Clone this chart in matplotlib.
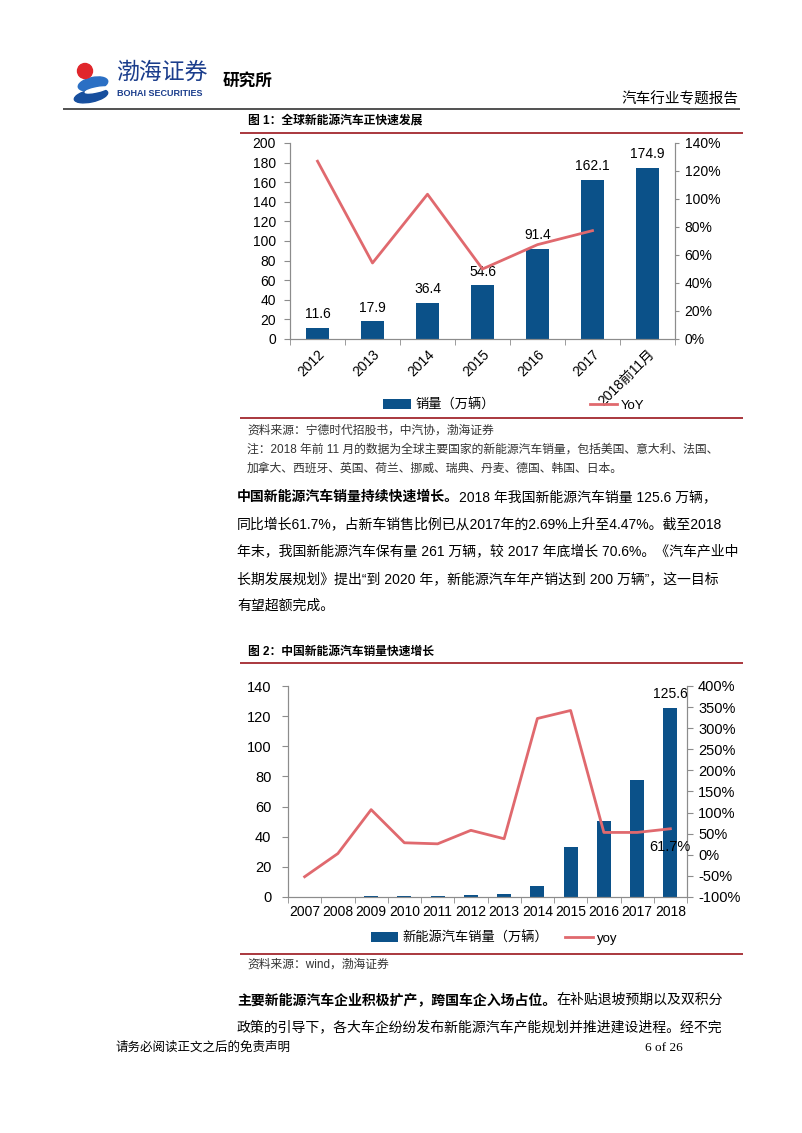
import numpy as np
import matplotlib
matplotlib.use('Agg')
import matplotlib.pyplot as plt
from matplotlib.patches import Circle, Ellipse
from matplotlib.ticker import PercentFormatter

plt.rcParams['font.family'] = ['Liberation Sans', 'Noto Sans CJK SC']
plt.rcParams['axes.unicode_minus'] = False

# ---- data ----
years1 = ['2012', '2013', '2014', '2015', '2016', '2017', '2018前11月']
sales1 = [11.6, 17.9, 36.4, 54.6, 91.4, 162.1, 174.9]
yoy1 = [1.27, 0.543, 1.034, 0.50, 0.674, 0.774]

years2 = ['2007', '2008', '2009', '2010', '2011', '2012',
          '2013', '2014', '2015', '2016', '2017', '2018']
sales2 = [0.3, 0.3, 0.5, 0.7, 0.8, 1.3, 1.8, 7.5, 33.1, 50.7, 77.7, 125.6]
yoy2 = [-0.52, 0.03, 1.07, 0.285, 0.26, 0.58, 0.38, 3.23, 3.42, 0.53, 0.53, 0.617]

BLUE = '#0B5189'
RED = '#E0696E'
RULE = '#A3282E'
GRAY = '#8C8C8C'

W, H = 802, 1133
fig = plt.figure(figsize=(8.02, 11.33), dpi=100)

# page layer in pixel coordinates
page = fig.add_axes([0, 0, 1, 1])
page.set_xlim(0, W)
page.set_ylim(H, 0)
page.axis('off')


def box(x0, y0, x1, y1):
    return [x0 / W, 1 - y1 / H, (x1 - x0) / W, (y1 - y0) / H]


def rule(y, x0=240, x1=743, color=RULE, lw=1.3):
    page.plot([x0, x1], [y, y], color=color, lw=lw, solid_capstyle='butt')


def para_line(y, bold, normal, x=237, size=10):
    if bold:
        t = page.text(x, y, bold, fontsize=size, fontweight='bold', va='center', ha='left')
        page.annotate(normal, xy=(1, 0.5), xycoords=t, va='center', ha='left', fontsize=size)
    else:
        page.text(x, y, normal, fontsize=size, va='center', ha='left')


# ---- header ----
page.add_patch(Ellipse((93, 84), 30, 13, angle=-12, color='#2A6FC4'))
page.add_patch(Ellipse((91, 96), 34, 12, angle=-12, color='#174F9E'))
page.add_patch(Ellipse((96, 90), 22, 4, angle=-12, color='white'))
page.add_patch(Circle((85, 71), 7.5, color='#E0262B'))
page.text(116, 72, '渤海证券', fontsize=16.5, color='#1B3D8C', va='center', ha='left')
page.text(117, 93, 'BOHAI SECURITIES', fontsize=6.5, fontweight='bold', color='#1B3D8C',
          va='center', ha='left')
page.text(223, 81, '研究所', fontsize=12, fontweight='bold', va='center', ha='left')
page.text(738, 100, '汽车行业专题报告', fontsize=10.5, va='center', ha='right')
rule(109, 63, 740, color='#333333', lw=1.2)

# ---- figure 1 ----
page.text(248, 122, '图 1：全球新能源汽车正快速发展', fontsize=8.5, fontweight='bold',
          va='center', ha='left')
rule(133)

ax1 = fig.add_axes(box(290, 143, 675, 339))
ax1.set_facecolor('none')
x1 = np.arange(len(years1))
bars1 = ax1.bar(x1, sales1, width=0.42, color=BLUE, zorder=2)
ax1.set_xlim(-0.5, len(years1) - 0.5)
ax1.set_ylim(0, 200)
ax1.set_yticks(range(0, 201, 20))
for xi, v in zip(x1, sales1):
    ax1.annotate(f'{v:.1f}', (xi, v), xytext=(0, 5), textcoords='offset points',
                 ha='center', va='bottom', fontsize=10)
ax1.set_xticks(x1)
ax1.set_xticklabels(years1, rotation=45, ha='right', rotation_mode='anchor', fontsize=10)
ax1.set_xticks(np.arange(-0.5, len(years1)), minor=True)
ax1.tick_params(axis='x', which='major', length=0, pad=6)
ax1.tick_params(axis='x', which='minor', length=4, color=GRAY)
ax1.tick_params(axis='y', length=4, color=GRAY, labelsize=10, pad=6)

ax1b = ax1.twinx()
line1, = ax1b.plot(x1[:len(yoy1)], yoy1, color=RED, lw=2, zorder=3)
ax1b.set_ylim(0, 1.4)
ax1b.set_yticks(np.arange(0, 1.41, 0.2))
ax1b.yaxis.set_major_formatter(PercentFormatter(1.0, decimals=0))
ax1b.tick_params(axis='y', length=3, color=GRAY, labelsize=10, pad=4)
for a in (ax1, ax1b):
    a.spines['top'].set_visible(False)
    for s in ('left', 'right', 'bottom'):
        a.spines[s].set_color(GRAY)

ax1.legend([bars1, line1], ['销量（万辆）', 'YoY'], loc='center',
           bbox_to_anchor=(514 / W, 1 - 405 / H), bbox_transform=fig.transFigure,
           ncol=2, frameon=False, fontsize=9.5, columnspacing=7.2,
           handlelength=2.1, handletextpad=0.3)
rule(418)

page.text(247, 431, '资料来源：宁德时代招股书，中汽协，渤海证券', fontsize=8.5,
          color='#333333', va='center', ha='left')
page.text(247, 450, '注：2018 年前 11 月的数据为全球主要国家的新能源汽车销量，包括美国、意大利、法国、',
          fontsize=8.5, color='#333333', va='center', ha='left')
page.text(247, 469, '加拿大、西班牙、英国、荷兰、挪威、瑞典、丹麦、德国、韩国、日本。',
          fontsize=8.5, color='#333333', va='center', ha='left')

# ---- paragraph 1 ----
para_line(497, '中国新能源汽车销量持续快速增长。', '2018 年我国新能源汽车销量 125.6 万辆，')
para_line(524, None, '同比增长61.7%，占新车销售比例已从2017年的2.69%上升至4.47%。截至2018')
para_line(551, None, '年末，我国新能源汽车保有量 261 万辆，较 2017 年底增长 70.6%。《汽车产业中')
para_line(579, None, '长期发展规划》提出“到 2020 年，新能源汽车年产销达到 200 万辆”，这一目标')
para_line(606, None, '有望超额完成。')

# ---- figure 2 ----
page.text(248, 652, '图 2：中国新能源汽车销量快速增长', fontsize=8.5, fontweight='bold',
          va='center', ha='left')
rule(663)

ax2 = fig.add_axes(box(288, 686, 687, 897))
ax2.set_facecolor('none')
x2 = np.arange(len(years2))
bars2 = ax2.bar(x2, sales2, width=0.42, color=BLUE, zorder=2)
ax2.set_xlim(-0.5, len(years2) - 0.5)
ax2.set_ylim(0, 140)
ax2.set_yticks(range(0, 141, 20))
ax2.annotate(f'{sales2[-1]:.1f}', (x2[-1], sales2[-1]), xytext=(0, 5),
             textcoords='offset points', ha='center', va='bottom', fontsize=10)
ax2.set_xticks(x2)
ax2.set_xticklabels(years2, fontsize=10)
ax2.set_xticks(np.arange(-0.5, len(years2)), minor=True)
ax2.tick_params(axis='x', which='major', length=0, pad=6)
ax2.tick_params(axis='x', which='minor', length=4, color=GRAY)
ax2.tick_params(axis='y', length=4, color=GRAY, labelsize=10.5, pad=8)

ax2b = ax2.twinx()
line2, = ax2b.plot(x2, yoy2, color=RED, lw=2, zorder=3)
ax2b.set_ylim(-1.0, 4.0)
ax2b.set_yticks(np.arange(-1.0, 4.01, 0.5))
ax2b.yaxis.set_major_formatter(PercentFormatter(1.0, decimals=0))
ax2b.tick_params(axis='y', length=4, color=GRAY, labelsize=10.5, pad=4)
ax2b.annotate(f'{yoy2[-1] * 100:.1f}%', (x2[-1], yoy2[-1]), xytext=(0, -13),
              textcoords='offset points', ha='center', va='center', fontsize=10.5)
for a in (ax2, ax2b):
    a.spines['top'].set_visible(False)
    for s in ('left', 'right', 'bottom'):
        a.spines[s].set_color(GRAY)

ax2.legend([bars2, line2], ['新能源汽车销量（万辆）', 'yoy'], loc='center',
           bbox_to_anchor=(494 / W, 1 - 938 / H), bbox_transform=fig.transFigure,
           ncol=2, frameon=False, fontsize=9.5, columnspacing=1.3,
           handlelength=2.1, handletextpad=0.3)
rule(954)
page.text(247, 965, '资料来源：wind，渤海证券', fontsize=8.5, color='#333333',
          va='center', ha='left')

# ---- paragraph 2 ----
para_line(1000, '主要新能源汽车企业积极扩产，跨国车企入场占位。', '在补贴退坡预期以及双积分')
para_line(1027, None, '政策的引导下，各大车企纷纷发布新能源汽车产能规划并推进建设进程。经不完')

# ---- footer ----
page.text(115, 1048, '请务必阅读正文之后的免责声明', fontsize=9, va='center', ha='left')
page.text(645, 1048, '6 of 26', fontsize=9.5, family='Liberation Serif', va='center', ha='left')

fig.savefig('out.png', dpi=100)
